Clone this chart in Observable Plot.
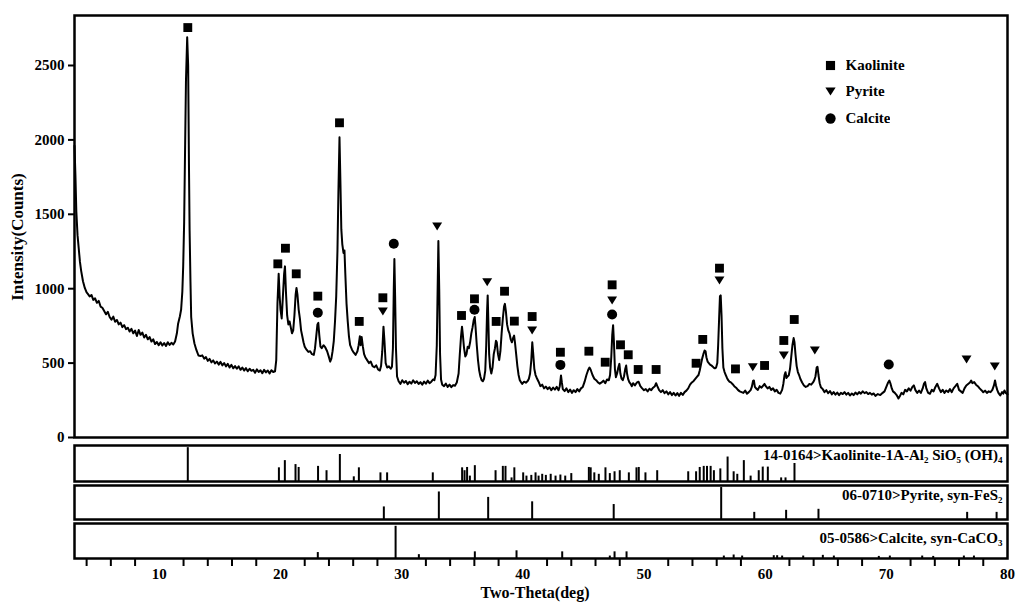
<!DOCTYPE html>
<html><head><meta charset="utf-8">
<script src="https://cdn.jsdelivr.net/npm/d3@7"></script>
<script src="https://cdn.jsdelivr.net/npm/@observablehq/plot@0.6"></script>
<style>
body{margin:0;background:#fff;}
#wrap{position:relative;width:1024px;height:612px;overflow:hidden;font-family:"Liberation Serif","Times New Roman",serif;font-weight:bold;color:#000;}
.abs{position:absolute;left:0;}
.lbl{position:absolute;white-space:nowrap;font-weight:bold;font-family:"Liberation Serif","Times New Roman",serif;}
#legend{position:absolute;left:823px;top:52px;}
#legend, #legend *{font-family:"Liberation Serif","Times New Roman",serif !important;font-weight:bold !important;font-size:15px !important;color:#000 !important;}
</style></head><body><div id="wrap"></div>
<script>
// ---- Measured XRD pattern: [2θ (deg), intensity (counts)] ----
const pattern = [
[3.0,1960],[3.08,1750],[3.15,1520],[3.25,1360],[3.35,1270],[3.45,1180],[3.55,1120],[3.7,1050],[3.85,1005],[4.0,975],
[4.1,965],[4.25,948],[4.4,958],[4.55,925],[4.7,935],[4.85,905],[5.0,918],[5.15,880],[5.3,872],[5.45,850],
[5.6,828],[5.75,845],[5.9,810],[6.05,792],[6.2,812],[6.35,778],[6.5,790],[6.65,760],[6.8,772],[6.95,742],
[7.1,755],[7.25,728],[7.4,738],[7.55,712],[7.7,730],[7.85,700],[8.0,718],[8.15,682],[8.3,722],[8.45,690],
[8.6,705],[8.75,672],[8.9,690],[9.05,660],[9.2,675],[9.35,645],[9.5,660],[9.65,628],[9.8,642],[9.95,620],
[10.1,640],[10.25,618],[10.4,635],[10.55,615],[10.7,640],[10.85,622],[11.0,636],[11.15,625],[11.3,645],[11.45,700],
[11.55,765],[11.7,815],[11.8,860],[11.9,980],[11.97,1150],[12.05,1450],[12.12,1900],[12.2,2400],[12.3,2690],[12.38,2500],
[12.45,1800],[12.5,1390],[12.57,1050],[12.63,810],[12.75,700],[12.9,632],[13.05,590],[13.23,551],[13.4,548],[13.55,552],
[13.7,530],[13.85,540],[14.0,515],[14.15,528],[14.3,505],[14.45,518],[14.6,498],[14.75,510],[14.9,490],[15.05,508],
[15.2,485],[15.35,500],[15.5,478],[15.65,495],[15.8,470],[15.95,488],[16.1,465],[16.25,480],[16.4,462],[16.55,478],
[16.7,455],[16.85,470],[17.0,450],[17.15,466],[17.3,445],[17.45,462],[17.6,448],[17.75,455],[17.9,435],[18.05,458],
[18.2,440],[18.35,452],[18.5,432],[18.65,455],[18.8,438],[18.95,450],[19.1,430],[19.25,452],[19.4,440],[19.55,445],
[19.65,520],[19.75,900],[19.85,1100],[19.93,950],[20.0,860],[20.1,800],[20.2,950],[20.3,1100],[20.37,1150],[20.45,980],
[20.55,820],[20.65,760],[20.75,780],[20.85,740],[20.95,700],[21.05,720],[21.15,820],[21.25,960],[21.32,1005],[21.4,960],
[21.5,860],[21.6,800],[21.7,720],[21.8,680],[21.9,640],[22.0,610],[22.15,590],[22.3,575],[22.45,580],[22.6,560],
[22.75,555],[22.85,600],[22.95,680],[23.05,760],[23.12,770],[23.2,690],[23.3,610],[23.4,600],[23.55,620],[23.7,605],
[23.85,580],[24.0,540],[24.1,510],[24.2,530],[24.3,580],[24.4,650],[24.5,780],[24.6,950],[24.7,1250],[24.78,1650],
[24.87,2018],[24.95,1700],[25.02,1400],[25.1,1300],[25.2,1240],[25.28,1257],[25.35,1100],[25.45,900],[25.55,780],[25.65,680],
[25.75,620],[25.9,590],[26.05,570],[26.2,555],[26.35,580],[26.45,620],[26.55,680],[26.62,620],[26.7,675],[26.8,610],
[26.9,560],[27.0,540],[27.15,520],[27.3,500],[27.45,510],[27.6,480],[27.75,472],[27.9,485],[28.05,458],[28.2,450],
[28.3,480],[28.4,580],[28.5,745],[28.58,650],[28.68,500],[28.8,470],[28.95,478],[29.1,462],[29.2,475],[29.28,600],
[29.35,1000],[29.4,1200],[29.46,950],[29.53,600],[29.62,410],[29.75,378],[29.9,360],[30.05,385],[30.2,368],[30.35,380],
[30.5,358],[30.65,375],[30.8,362],[30.95,384],[31.1,366],[31.25,378],[31.4,360],[31.55,372],[31.7,355],[31.85,376],
[32.0,362],[32.15,382],[32.3,365],[32.45,375],[32.6,390],[32.7,385],[32.8,420],[32.9,620],[32.97,1000],[33.03,1320],
[33.1,1000],[33.17,560],[33.25,390],[33.35,355],[33.5,345],[33.65,362],[33.8,340],[33.95,355],[34.1,338],[34.25,352],
[34.4,348],[34.55,370],[34.7,430],[34.8,560],[34.9,680],[34.98,745],[35.05,690],[35.15,600],[35.25,545],[35.35,560],
[35.45,610],[35.55,600],[35.65,640],[35.75,700],[35.85,740],[35.95,790],[36.03,810],[36.1,740],[36.2,620],[36.3,520],
[36.4,450],[36.5,410],[36.6,385],[36.7,378],[36.8,395],[36.9,450],[36.98,620],[37.05,850],[37.1,955],[37.15,800],
[37.22,560],[37.3,470],[37.4,430],[37.5,470],[37.6,560],[37.7,600],[37.78,650],[37.85,640],[37.95,560],[38.05,520],
[38.15,580],[38.25,700],[38.35,800],[38.45,880],[38.52,898],[38.6,850],[38.7,760],[38.8,720],[38.9,700],[39.0,660],
[39.1,640],[39.2,670],[39.28,685],[39.35,640],[39.45,560],[39.55,480],[39.65,420],[39.75,385],[39.85,372],[39.95,360],
[40.1,375],[40.25,368],[40.4,380],[40.5,395],[40.6,430],[40.7,520],[40.78,640],[40.86,560],[40.95,460],[41.05,420],
[41.15,400],[41.3,375],[41.45,345],[41.6,355],[41.75,330],[41.9,342],[42.05,325],[42.2,338],[42.35,318],[42.5,335],
[42.65,322],[42.8,340],[42.95,318],[43.05,345],[43.15,417],[43.22,370],[43.3,325],[43.45,312],[43.6,330],[43.75,305],
[43.9,322],[44.05,300],[44.2,318],[44.35,305],[44.5,325],[44.65,310],[44.8,330],[44.95,340],[45.1,375],[45.25,420],
[45.4,455],[45.5,470],[45.6,455],[45.75,420],[45.9,395],[46.05,385],[46.2,370],[46.35,362],[46.5,370],[46.65,382],
[46.8,365],[46.95,390],[47.1,385],[47.2,420],[47.3,540],[47.38,690],[47.45,755],[47.52,640],[47.6,460],[47.68,405],
[47.78,430],[47.88,470],[47.97,495],[48.05,430],[48.15,395],[48.25,385],[48.35,410],[48.45,460],[48.53,484],[48.6,430],
[48.7,390],[48.8,370],[48.9,360],[49.0,345],[49.1,365],[49.25,350],[49.4,368],[49.55,375],[49.7,345],[49.85,330],
[50.0,318],[50.15,325],[50.3,310],[50.45,328],[50.6,318],[50.75,335],[50.9,345],[51.0,365],[51.1,345],[51.25,318],
[51.4,305],[51.55,318],[51.7,298],[51.85,310],[52.0,290],[52.15,305],[52.3,285],[52.45,300],[52.6,282],[52.75,298],
[52.9,280],[53.05,300],[53.2,286],[53.35,305],[53.5,315],[53.65,330],[53.8,355],[53.95,370],[54.1,380],[54.25,395],
[54.4,410],[54.5,420],[54.6,450],[54.7,490],[54.8,530],[54.9,560],[55.0,585],[55.08,580],[55.15,540],[55.25,510],
[55.35,500],[55.45,490],[55.55,485],[55.65,478],[55.75,470],[55.85,465],[55.95,470],[56.05,500],[56.12,620],[56.2,800],
[56.27,950],[56.33,955],[56.4,820],[56.47,600],[56.55,470],[56.65,440],[56.75,420],[56.85,400],[56.95,385],[57.05,375],
[57.15,372],[57.3,360],[57.45,345],[57.6,335],[57.75,320],[57.9,310],[58.05,305],[58.2,300],[58.35,315],[58.5,295],
[58.65,305],[58.8,318],[58.9,340],[59.0,380],[59.07,383],[59.15,340],[59.25,330],[59.4,320],[59.55,345],[59.7,335],
[59.85,350],[59.95,360],[60.05,345],[60.2,330],[60.35,340],[60.5,320],[60.65,330],[60.8,310],[60.95,320],[61.1,300],
[61.25,295],[61.4,320],[61.5,360],[61.6,420],[61.68,439],[61.76,400],[61.85,410],[61.95,418],[62.05,460],[62.15,540],
[62.25,620],[62.35,668],[62.42,640],[62.5,560],[62.6,480],[62.7,440],[62.8,420],[62.9,395],[63.05,370],[63.2,350],
[63.35,340],[63.5,345],[63.65,360],[63.8,355],[63.95,370],[64.05,385],[64.15,410],[64.25,470],[64.32,475],[64.4,420],
[64.5,365],[64.6,338],[64.75,325],[64.9,305],[65.05,318],[65.2,298],[65.35,312],[65.5,290],[65.65,305],[65.8,288],
[65.95,302],[66.1,285],[66.25,300],[66.4,292],[66.55,305],[66.7,288],[66.85,300],[67.0,282],[67.15,296],[67.3,285],
[67.45,302],[67.6,290],[67.75,305],[67.9,295],[68.05,310],[68.2,298],[68.35,305],[68.5,292],[68.65,300],[68.8,288],
[68.95,296],[69.1,280],[69.3,292],[69.5,285],[69.7,300],[69.85,310],[69.95,330],[70.05,350],[70.15,370],[70.25,383],
[70.35,360],[70.45,330],[70.55,310],[70.7,300],[70.85,285],[71.0,262],[71.1,275],[71.25,300],[71.4,290],[71.55,320],
[71.7,310],[71.85,330],[72.0,315],[72.15,340],[72.27,350],[72.4,318],[72.55,300],[72.7,315],[72.85,300],[73.0,330],
[73.1,360],[73.2,372],[73.3,330],[73.45,300],[73.6,294],[73.75,320],[73.9,310],[74.05,340],[74.2,361],[74.35,330],
[74.5,305],[74.65,320],[74.8,300],[74.95,316],[75.1,305],[75.25,325],[75.4,305],[75.55,330],[75.7,345],[75.85,361],
[76.0,320],[76.15,310],[76.3,300],[76.45,330],[76.6,350],[76.75,360],[76.9,370],[77.0,383],[77.1,365],[77.25,372],
[77.4,355],[77.55,345],[77.7,330],[77.85,318],[78.0,304],[78.15,315],[78.3,300],[78.45,310],[78.6,305],[78.75,320],
[78.88,350],[78.97,383],[79.05,350],[79.15,320],[79.25,300],[79.4,282],[79.55,305],[79.65,295],[79.75,316],[79.85,300],
[80.0,290]
];

// ---- Phase markers above peaks (2θ, label height in counts) ----
const minerals = ["Kaolinite", "Pyrite", "Calcite"];
const kaoMarkX = [12.35, 19.78, 20.41, 21.3, 23.08, 24.87, 26.5, 28.45, 34.94, 36.01, 37.8, 38.49, 39.3, 40.77, 43.1, 45.45, 46.8, 47.37, 48.06, 48.7, 49.52, 51.0, 54.3, 54.85, 56.23, 57.55, 59.95, 61.54, 62.4];
const kaoMarkY = [2755, 1167, 1272, 1100, 950, 2115, 780, 939, 820, 932, 780, 983, 782, 813, 573, 580, 506, 1026, 623, 556, 457, 457, 499, 659, 1138, 461, 484, 652, 793];
const pyrMarkX = [28.45, 32.93, 37.06, 40.77, 47.37, 56.23, 58.98, 61.54, 64.1, 76.62, 78.95];
const pyrMarkY = [847, 1418, 1044, 719, 921, 1055, 472, 551, 585, 524, 477];
const calMarkX = [23.08, 29.35, 36.01, 43.1, 47.37, 70.2];
const calMarkY = [838, 1302, 858, 488, 827, 491];

// ---- Reference stick patterns (2θ, relative intensity %) ----
const kaoStickX = [12.35, 19.87, 20.36, 21.24, 21.5, 23.1, 23.8, 24.9, 26.05, 26.47, 28.25, 28.8, 32.57, 34.99, 35.19, 35.4, 35.63, 36.04, 37.75, 38.35, 38.57, 39.07, 39.3, 40.03, 40.3, 40.7, 41.05, 41.3, 41.6, 41.9, 42.3, 42.7, 43.1, 43.5, 44.0, 45.45, 45.6, 45.9, 46.27, 46.82, 47.18, 47.57, 48.0, 48.75, 49.38, 49.57, 50.12, 51.09, 53.65, 54.3, 54.6, 54.93, 55.2, 55.5, 55.77, 56.3, 56.9, 57.4, 57.7, 58.24, 58.8, 59.47, 59.8, 60.22, 61.32, 61.68, 62.42];
const kaoStickI = [94, 38, 58, 47, 39, 42, 30, 75, 13, 38, 24, 24, 24, 38, 30, 39, 15, 44, 30, 42, 42, 10, 38, 24, 15, 17, 24, 15, 20, 17, 20, 15, 18, 15, 22, 39, 38, 24, 20, 38, 22, 27, 30, 24, 38, 39, 24, 30, 27, 27, 39, 42, 42, 42, 30, 35, 68, 27, 20, 58, 15, 30, 40, 40, 10, 10, 50];
const pyrStickX = [28.53, 33.07, 37.14, 40.77, 47.5, 56.37, 59.1, 61.73, 64.4, 76.67, 79.1];
const pyrStickI = [37, 81, 65, 52, 44, 94, 21, 27, 30, 21, 21];
const calStickX = [23.08, 29.5, 31.42, 36.04, 39.48, 43.25, 47.18, 47.57, 48.56, 56.59, 57.4, 58.1, 60.71, 60.99, 61.4, 63.14, 64.76, 65.67, 69.38, 70.29, 72.96, 73.87, 76.4, 77.23];
const calStickI = [17, 92, 11, 19, 22, 19, 7, 19, 19, 7, 10, 7, 8, 8, 7, 7, 9, 7, 6, 7, 7, 6, 7, 7];

const panelLabels = ["14-0164>Kaolinite-1A-Al\u2082 SiO\u2085 (OH)\u2084", "06-0710>Pyrite, syn-FeS\u2082", "05-0586>Calcite, syn-CaCO\u2083"];
const yTicks = [0, 500, 1000, 1500, 2000, 2500];
const xLabelTicks = [10, 20, 30, 40, 50, 60, 70, 80];
const xMinorTicks = [4, 6, 8, 12, 14, 16, 18, 22, 24, 26, 28, 32, 34, 36, 38, 42, 44, 46, 48, 52, 54, 56, 58, 62, 64, 66, 68, 72, 74, 76, 78];
const xTitle = "Two-Theta(deg)";
const yTitle = "Intensity(Counts)";

// ---- build ----
const serif = '"Liberation Serif","Times New Roman",serif';
const baseStyle = {fontFamily: serif, fontWeight: "bold", fontSize: "15px", background: "transparent", overflow: "visible", color: "black"};
const triDown = {draw(ctx, size) { const s = Math.sqrt(size); ctx.moveTo(-0.56 * s, -0.45 * s); ctx.lineTo(0.56 * s, -0.45 * s); ctx.lineTo(0, 0.45 * s); ctx.closePath(); }};

const curve = pattern.map(([x, y]) => ({x, y}));
const markers = [
  ...kaoMarkX.map((x, i) => ({x, y: kaoMarkY[i], mineral: "Kaolinite"})),
  ...pyrMarkX.map((x, i) => ({x, y: pyrMarkY[i], mineral: "Pyrite"})),
  ...calMarkX.map((x, i) => ({x, y: calMarkY[i], mineral: "Calcite"}))
];

const wrap = document.getElementById("wrap");
function place(el, top) { const d = document.createElement("div"); d.className = "abs"; d.style.top = top + "px"; d.appendChild(el); wrap.appendChild(d); return d; }

const main = Plot.plot({
  width: 1024, height: 440, marginLeft: 74, marginRight: 17, marginTop: 15, marginBottom: 3,
  style: baseStyle,
  x: {domain: [3, 80], axis: null},
  y: {domain: [0, 2836], axis: null},
  symbol: {domain: minerals, range: ["square", triDown, "circle"]},
  marks: [
    Plot.line(curve, {x: "x", y: "y", stroke: "black", strokeWidth: 2, strokeLinejoin: "round"}),
    Plot.dot(markers, {x: "x", y: "y", symbol: "mineral", fill: "black", stroke: "none", r: 5}),
    Plot.axisY(yTicks, {tickSize: 6, tickPadding: 4, strokeWidth: 2, fontSize: 15, label: null, tickFormat: d => String(d)}),
    Plot.frame({stroke: "black", strokeWidth: 2.5})
  ]
});
place(main, 0);

function panel(xs, is, label, h, mt, mb, dy, withAxis) {
  const data = xs.map((x, i) => ({x, v: is[i]}));
  const marks = [
    Plot.ruleX(data, {x: "x", y1: 0, y2: "v", stroke: "black", strokeWidth: 2}),
    Plot.frame({stroke: "black", strokeWidth: 2.5}),
    Plot.text([label], {text: d => d, frameAnchor: "top-right", dx: -5, dy, lineAnchor: "middle", textAnchor: "end", fontSize: 15, fontWeight: "bold", fill: "black"})
  ];
  if (withAxis) {
    marks.push(Plot.axisX(xMinorTicks, {tickSize: 8, strokeWidth: 2, tickFormat: () => "", label: null}));
    marks.push(Plot.axisX(xLabelTicks, {tickSize: 0, tickPadding: 10, fontSize: 15, label: null, tickFormat: d => String(d)}));
  }
  return Plot.plot({
    width: 1024, height: h, marginLeft: 74, marginRight: 17, marginTop: mt, marginBottom: mb,
    style: baseStyle,
    x: {domain: [3, 80], axis: null},
    y: {domain: [0, 100], axis: null},
    marks
  });
}
place(panel(kaoStickX, kaoStickI, panelLabels[0], 40, 2, 2, 10, false), 443);
place(panel(pyrStickX, pyrStickI, panelLabels[1], 38, 2, 2, 10, false), 483);
place(panel(calStickX, calStickI, panelLabels[2], 91, 2, 54, 15, true), 521);

// legend from the symbol scale
const leg = main.legend("symbol", {columns: 1, fill: "black", stroke: "none", r: 5.5});
const legBox = document.createElement("div"); legBox.id = "legend";
legBox.appendChild(leg); wrap.appendChild(legBox);
leg.style.margin = "0";
leg.querySelectorAll("svg").forEach(s => {
  const p = s.parentElement; p.style.height = "26.5px"; p.style.paddingBottom = "0"; p.style.margin = "0";
  p.style.display = "flex"; p.style.alignItems = "center"; s.style.marginRight = "7.5px";
});

// axis titles
const yl = document.createElement("div"); yl.className = "lbl"; yl.textContent = yTitle;
Object.assign(yl.style, {left: "18px", top: "237px", fontSize: "17px", transform: "translate(-50%,-50%) rotate(-90deg)"});
wrap.appendChild(yl);
const xl = document.createElement("div"); xl.className = "lbl"; xl.textContent = xTitle;
Object.assign(xl.style, {left: "535px", top: "593px", fontSize: "16px", transform: "translate(-50%,-50%)"});
wrap.appendChild(xl);
</script></body></html>
